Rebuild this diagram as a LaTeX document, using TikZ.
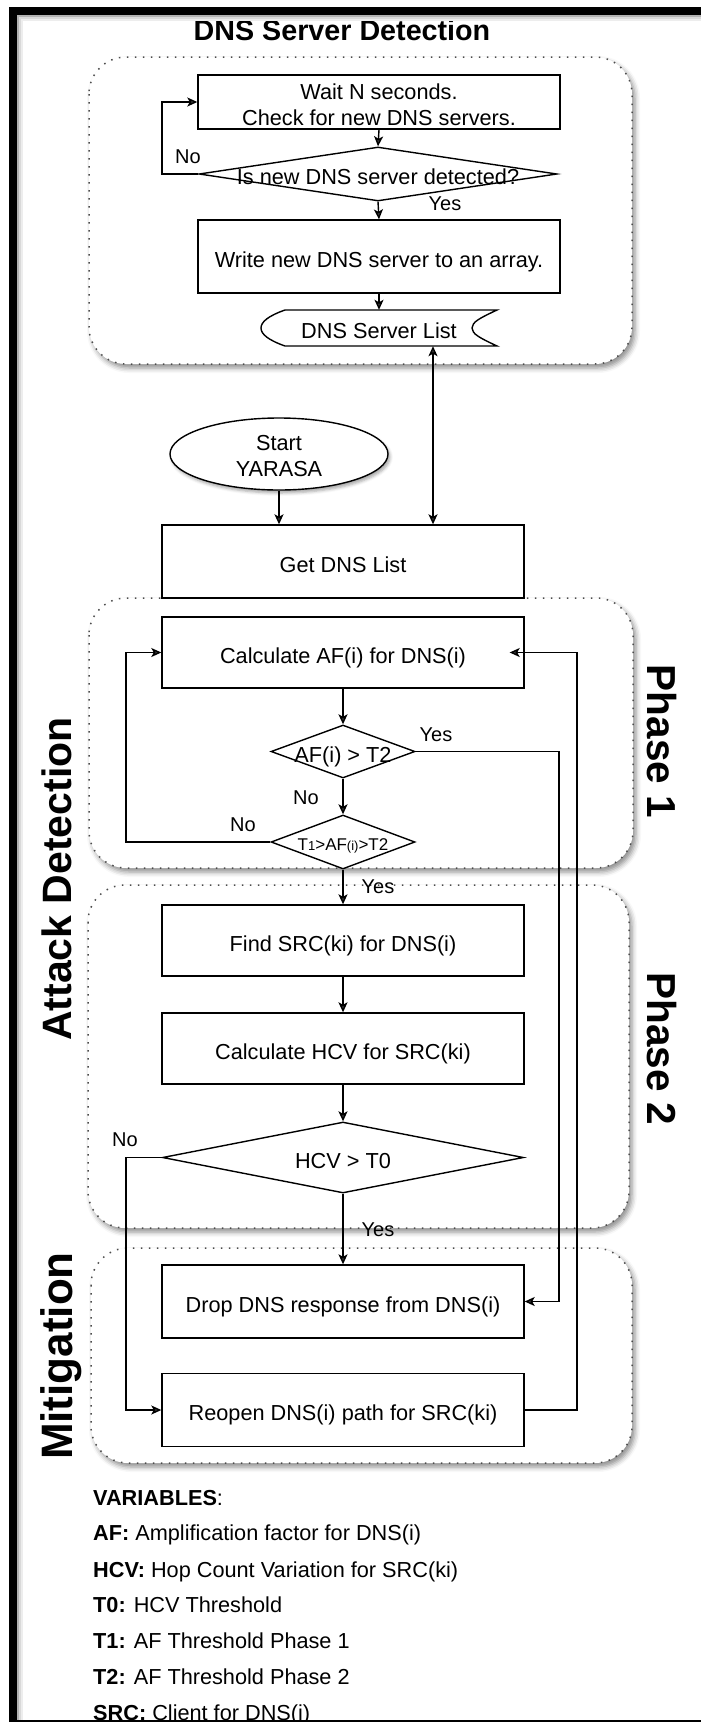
\documentclass[tikz,border=0pt]{standalone}
\usepackage{fontspec}
\setmainfont{Liberation Sans}
\usetikzlibrary{arrows.meta,shapes.geometric,shadows.blur,calc}

\newcommand\flowfont{\fontsize{21.7}{26}\selectfont}
\newcommand\smallflowfont{\fontsize{17}{20}\selectfont}
\newcommand\tinyflowfont{\fontsize{13}{16}\selectfont}
\newcommand\yesnofont{\fontsize{20}{24}\selectfont}
\newcommand\sidefont{\fontsize{41}{48}\selectfont\bfseries}
\newcommand\mitfont{\fontsize{44}{52}\selectfont\bfseries}
\newcommand\phasefont{\fontsize{40.5}{48}\selectfont\bfseries}
\newcommand\headfont{\fontsize{28.7}{34}\selectfont\bfseries}

\tikzset{
  flowbox/.style={draw, line width=1.4pt, fill=white, minimum width=362pt,
    inner sep=0pt, font=\flowfont, text height=21.6pt, text depth=0pt},
  decision/.style={draw, shape=diamond, line width=1.4pt, fill=white, inner sep=0pt},
  dtext/.style={inner sep=0pt, font=\flowfont, text height=21.6pt, text depth=0pt},
  plain/.style={inner sep=0pt, font=\flowfont},
  yesno/.style={inner sep=0pt, font=\yesnofont},
  group/.style={draw=black!70, fill=white, line width=1.5pt,
    dash pattern=on 1.5pt off 6.5pt, rounded corners=37pt,
    blur shadow={shadow xshift=3pt, shadow yshift=-4pt,
      shadow blur radius=5pt, shadow opacity=45}},
  flow/.style={line width=1.4pt, -{Stealth[length=10pt,width=9pt,inset=2.5pt]}},
  link/.style={line width=1.4pt,
    {Stealth[length=10pt,width=9pt,inset=2.5pt]}-{Stealth[length=10pt,width=9pt,inset=2.5pt]}},
  varline/.style={inner sep=0pt, font=\flowfont, anchor=base west},
}

\begin{document}
\begin{tikzpicture}[x=1pt,y=-1pt]
\useasboundingbox (0,0) rectangle (701,1722);
\clip (0,0) rectangle (701,1722);

% lanes used by the long connectors
\coordinate (laneA) at (126,0);
\coordinate (laneB) at (559,0);
\coordinate (laneC) at (577,0);
\coordinate (laneD) at (162,0);
\coordinate (laneL) at (433,0);

% grouping frames
\path[group] (89,57) rectangle (632,364);
\path[group] (89,598) rectangle (633,868);
\path[group] (88,885) rectangle (629,1228);
\path[group] (91,1248) rectangle (632,1463);

% heading and side labels
\node[font=\headfont, inner sep=0pt, anchor=base] (title) at (342,40) {DNS Server Detection};
\node[font=\sidefont, inner sep=0pt, rotate=90, anchor=base] (attack) at (71,879) {Attack Detection};
\node[font=\mitfont, inner sep=0pt, rotate=90, anchor=base] (mitig) at (72,1356) {Mitigation};
\node[font=\phasefont, inner sep=0pt, rotate=-90, anchor=base] (ph1) at (647,741.5) {Phase 1};
\node[font=\phasefont, inner sep=0pt, rotate=-90, anchor=base] (ph2) at (647,1049) {Phase 2};

% DNS server detection loop
\node[flowbox, minimum height=54pt] (wait) at (379,102) {};
\node[plain, align=center, anchor=north] (waitt) at ([yshift=-9.2pt]wait.north)
  {Wait N seconds.\\Check for new DNS servers.};
\node[decision, minimum width=358pt, minimum height=54pt] (q1) at (378,174) {};
\node[dtext] (q1t) at (q1.center) {Is new DNS server detected?};
\node[flowbox, minimum height=73pt] (write) at (379,256.5) {Write new DNS server to an array.};
\node[inner sep=0pt, minimum width=236pt, minimum height=36pt, font=\flowfont,
  text height=21.6pt, text depth=0pt] (dsl) at (379,328) {DNS Server List};
\draw[line width=1.4pt] (285,310) -- (497,310)
  .. controls (480,318) and (472,322) .. (472,328)
  .. controls (472,334) and (480,338) .. (497,346)
  -- (285,346)
  .. controls (268,340) and (261,334) .. (261,328)
  .. controls (261,322) and (268,316) .. cycle;

% start and list retrieval
\node[draw, shape=ellipse, line width=1.4pt, fill=white, inner sep=0pt,
  minimum width=218pt, minimum height=72pt,
  blur shadow={shadow xshift=2pt, shadow yshift=-3pt, shadow blur radius=3pt, shadow opacity=35}]
  (start) at (279,454) {};
\node[plain, align=center, anchor=north] (startt) at ([yshift=-18pt]start.north) {Start\\YARASA};
\node[flowbox, minimum height=73pt] (getdns) at (343,561.5) {Get DNS List};

% phase 1
\node[flowbox, minimum height=71pt] (calcaf) at (343,652.5) {Calculate AF(i) for DNS(i)};
\node[decision, minimum width=144pt, minimum height=53pt] (q2) at (343,751.5) {};
\node[dtext] (q2t) at (q2.center) {AF(i) > T2};
\node[decision, minimum width=144pt, minimum height=54pt] (q3) at (343,842) {};
\node[inner sep=0pt, font=\smallflowfont, text height=16pt, text depth=0pt] (q3t) at (q3.center)
  {T{\tinyflowfont 1}>AF{\tinyflowfont (i)}>T2};

% phase 2
\node[flowbox, minimum height=71pt] (findsrc) at (343,940.5) {Find SRC(ki) for DNS(i)};
\node[flowbox, minimum height=71pt] (calchcv) at (343,1048.5) {Calculate HCV for SRC(ki)};
\node[decision, minimum width=361pt, minimum height=71pt] (q4) at (343,1157.5) {};
\node[dtext] (q4t) at (q4.center) {HCV > T0};

% mitigation
\node[flowbox, minimum height=73pt] (drop) at (343,1301.5) {Drop DNS response from DNS(i)};
\node[flowbox, minimum height=73pt] (reopen) at (343,1410) {Reopen DNS(i) path for SRC(ki)};

% connectors
\draw[flow] (wait.south) -- (q1.north);
\draw[flow] (q1.west) -- (q1.west -| laneD) |- (wait.west);
\draw[flow] (q1.south) -- (write.north);
\draw[flow] (write.south) -- (dsl.north);
\draw[link] (dsl.south -| laneL) -- (getdns.north -| laneL);
\draw[flow] (start.south) -- (getdns.north -| start.south);
\draw[flow] (calcaf.south) -- (q2.north);
\draw[flow] (q2.east) -- (q2.east -| laneB) |- (drop.east);
\draw[flow] (q2.south) -- (q3.north);
\draw[flow] (q3.west) -- (q3.west -| laneA) |- (calcaf.west);
\draw[flow] (q3.south) -- (findsrc.north);
\draw[flow] (findsrc.south) -- (calchcv.north);
\draw[flow] (calchcv.south) -- (q4.north);
\draw[flow] (q4.west) -- (q4.west -| laneA) |- (reopen.west);
\draw[flow] (q4.south) -- (drop.north);
\draw[flow] (reopen.east) -- (reopen.east -| laneC) |- ([xshift=-15pt]calcaf.east);

% branch labels
\node[yesno] (no1) at (188,157) {No};
\node[yesno] (yes1) at (445,204) {Yes};
\node[yesno] (yes2) at (436,735) {Yes};
\node[yesno] (no2) at (306,798) {No};
\node[yesno] (no3) at (243,825) {No};
\node[yesno] (yes3) at (378,887) {Yes};
\node[yesno] (no4) at (125,1140) {No};
\node[yesno] (yes4) at (378,1230) {Yes};

% legend
\node[varline] (v0) at (93,1505) {\textbf{VARIABLES}:};
\node[varline] (v1) at (93,1540) {\textbf{AF:} Amplification factor for DNS(i)};
\node[varline] (v2) at (93,1577) {\textbf{HCV:} Hop Count Variation for SRC(ki)};
\node[varline] (v3) at (93,1612) {\textbf{T0:} HCV Threshold};
\node[varline] (v4) at (93,1648) {\textbf{T1:} AF Threshold Phase 1};
\node[varline] (v5) at (93,1684) {\textbf{T2:} AF Threshold Phase 2};
\node[varline] (v6) at (93,1720) {\textbf{SRC:} Client for DNS(i)};

% page frame with its inner shading
\draw[black!30, line width=2pt] (17.5,1722) -- (17.5,16) -- (701,16);
\draw[black!15, line width=2pt] (19.5,1722) -- (19.5,18) -- (701,18);
\draw[black!7, line width=2pt] (21.5,1722) -- (21.5,20) -- (701,20);
\draw[line width=7.5pt] (12.75,11) rectangle (760,1724);
\end{tikzpicture}
\end{document}
